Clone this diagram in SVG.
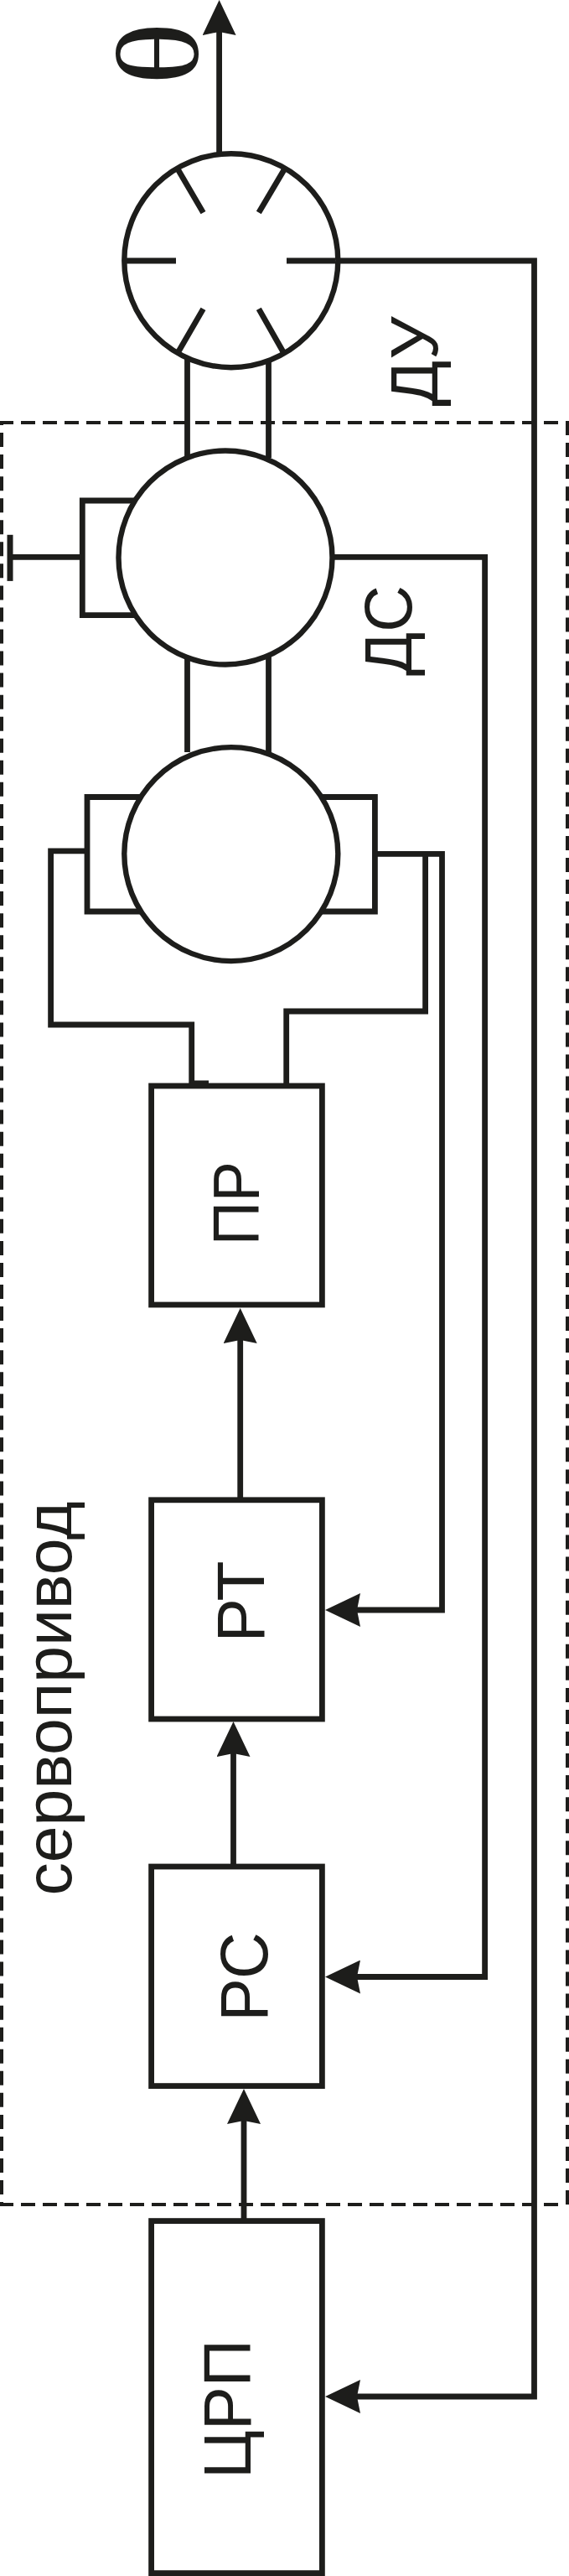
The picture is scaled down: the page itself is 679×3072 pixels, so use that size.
<svg xmlns="http://www.w3.org/2000/svg" width="679" height="3072" viewBox="0 0 679 3072">
<style>
.l{fill:none;stroke:#1d1d1b;stroke-width:6.8;stroke-linecap:butt;stroke-linejoin:miter}
.b{fill:#fff;stroke:#1d1d1b;stroke-width:6.8}
.c{fill:#fff;stroke:#1d1d1b;stroke-width:6.4}
.d{fill:none;stroke:#1d1d1b;stroke-width:4}
text{font-family:"Liberation Sans",Arial,sans-serif;fill:#1d1d1b;font-size:80px;text-anchor:middle}
</style>
<defs>
<marker id="ah" markerUnits="userSpaceOnUse" viewBox="0 0 42 40" markerWidth="42" markerHeight="40" refX="4" refY="20" orient="auto"><path d="M42,20 L0,0 L4,20 L0,40 Z" fill="#1d1d1b"/></marker>
</defs>
<rect width="679" height="3072" fill="#fff"/>
<g id="boundary">
<path class="d" stroke-dasharray="17 9" d="M-1,504H668"/>
<path class="d" stroke-dasharray="17 9" d="M-1,2629H668"/>
<path class="d" stroke-dasharray="17 9.05" stroke-dashoffset="14" d="M2,504V2631"/>
<path class="d" stroke-dasharray="17 9.05" d="M677,502V2631"/>
</g>
<g id="connectors">
<path class="l" marker-end="url(#ah)" d="M261.6,182V38"/>
<path class="l" d="M223.5,428V546M320.5,428V546M223.5,780V897M320.5,780V897"/>
<path class="l" d="M400,311H637.5V2858H426" marker-end="url(#ah)"/>
<path class="l" d="M395,664.3H578.6V2357.5H426" marker-end="url(#ah)"/>
<path class="l" d="M447,1018.4H527.5V1920H426" marker-end="url(#ah)"/>
<path class="l" d="M507.6,1018.4V1206H341.7V1295"/>
<path class="l" d="M104,1014.8H60.6V1222H228.7V1295"/>
<path class="l" d="M98.3,664.3H12"/>
<path d="M12,637.8V692.9" fill="none" stroke="#1d1d1b" stroke-width="7"/>
<path d="M226,1288.5H249V1295H226Z" fill="#1d1d1b"/>
<path class="l" marker-end="url(#ah)" d="M286.7,1789V1598"/>
<path class="l" marker-end="url(#ah)" d="M278.5,2226V2091"/>
<path class="l" marker-end="url(#ah)" d="M291,2648V2529"/>
</g>
<g id="motor-du">
<ellipse class="c" cx="275.8" cy="310.7" rx="127.5" ry="127.5"/>
<path class="l" d="M149,311H210M342,311H400M212,201.5L242.5,253.6M338.7,203L308.8,253.6M242.5,368.4L212,421M308.8,368.4L338.7,421"/>
</g>
<g id="motor-ds">
<path class="l" d="M165,597H98.3V733.7H165"/>
<ellipse class="c" cx="269" cy="665" rx="127.5" ry="127.5"/>
</g>
<g id="generator">
<path class="l" d="M172,950.5H104V1087H172"/>
<path class="l" d="M380,950.5H447.4V1087H380"/>
<ellipse class="c" cx="275.8" cy="1018.6" rx="127.5" ry="127.5"/>
</g>
<g id="pr"><rect class="b" x="180.6" y="1295" width="203.8" height="261"/><text transform="translate(309,1435) rotate(-90)" style="font-size:77px" textLength="100" lengthAdjust="spacingAndGlyphs">ПР</text></g>
<g id="rt"><rect class="b" x="180.6" y="1788.8" width="203.8" height="261.2"/><text transform="translate(315,1910) rotate(-90)" textLength="97" lengthAdjust="spacingAndGlyphs">РТ</text></g>
<g id="rs"><rect class="b" x="180.6" y="2226" width="203.8" height="261.6"/><text transform="translate(319,2357.5) rotate(-90)" textLength="106" lengthAdjust="spacingAndGlyphs">РС</text></g>
<g id="crp"><rect class="b" x="180.6" y="2648.6" width="203.8" height="420"/><text transform="translate(299,2873) rotate(-90)" textLength="166" lengthAdjust="spacingAndGlyphs">ЦРП</text></g>
<g id="labels">
<text transform="translate(522,431) rotate(-90)" textLength="107" lengthAdjust="spacingAndGlyphs">ДУ</text>
<text transform="translate(491,752) rotate(-90)" textLength="108" lengthAdjust="spacingAndGlyphs">ДС</text>
<text transform="translate(84.5,2025.5) rotate(-90)" style="font-size:78px" textLength="470" lengthAdjust="spacingAndGlyphs">сервопривод</text>
<text transform="translate(235.5,64) rotate(-90) scale(1.13,1)" style="font-family:'Liberation Serif',serif;font-size:139px">θ</text>
</g>
</svg>
